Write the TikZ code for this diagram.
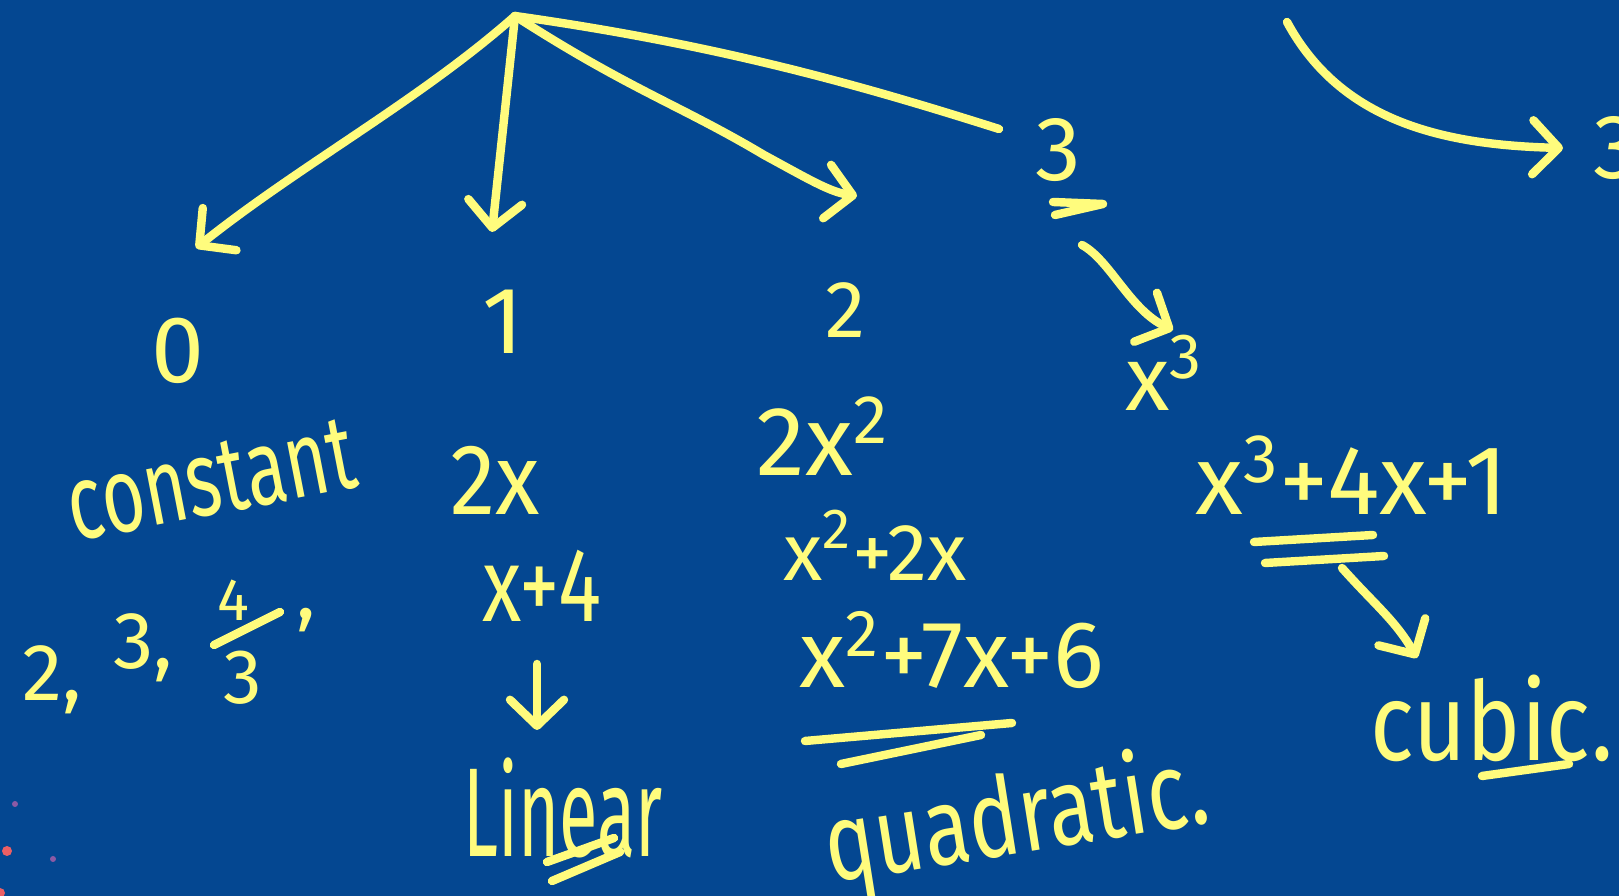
\documentclass[tikz,border=0pt]{standalone}
\usepackage{fontspec}
\setmainfont{Fira Sans}
\usepackage{graphicx}
\usetikzlibrary{arrows.meta,positioning}
\definecolor{board}{RGB}{4,71,145}
\definecolor{chalk}{RGB}{255,252,125}
\definecolor{dotred}{RGB}{235,95,100}
\definecolor{dotpurple}{RGB}{140,90,165}
\newcommand{\tallx}[2]{\scalebox{1}[#1]{#2}}
\tikzset{
  ink/.style={draw=chalk, line width=2.4pt, line cap=round, line join=round},
  arr/.style={ink, -{Straight Barb[length=2.6mm,width=5.4mm,round]}},
  hand/.style={text=chalk, inner sep=0pt, font=\fontsize{#1}{#1}\selectfont},
  hand/.default=26,
}

\begin{document}
\begin{tikzpicture}
  % Board
  \useasboundingbox (0,0) rectangle (16.19,-8.96);
  \clip (0,0) rectangle (16.19,-8.96);
  \fill[board] (0,0) rectangle (16.19,-8.96);

  % Degrees
  \node[hand=27] (zero) at (1.78,-3.51) {0};
  \node[hand=27] (one) at (5.03,-3.22) {1};
  \node[hand=23] (two) at (8.45,-3.10) {2};
  \node[hand=26] (three) at (10.58,-1.50) {3};
  \node[hand=26, anchor=west] (threeR) at (15.93,-1.48) {3};
  \node[hand=26] (xcube) at (11.64,-3.73) {x\textsuperscript{3}};

  % Arrows from the top
  \coordinate (apex) at (5.15,-0.16);
  \coordinate (to0) at (1.96,-2.48);
  \coordinate (to1) at (4.92,-2.32);
  \coordinate (to2) at (8.57,-1.96);
  \coordinate (to3) at (9.99,-1.29);
  \draw[arr] (apex) .. controls (4.2,-1.0) and (3.0,-1.65) .. (to0);
  \draw[arr] (apex) -- (to1);
  \draw[arr] (apex) .. controls (6.3,-0.9) and (6.8,-1.05) .. (7.64,-1.55)
    .. controls (8.1,-1.8) and (8.3,-1.92) .. (to2);
  \draw[ink] (apex) .. controls (7.2,-0.45) and (8.6,-0.85) .. (to3);

  % Arrow to the far 3
  \coordinate (trs) at (12.87,-0.22);
  \draw[arr] (trs) .. controls (13.4,-1.2) and (14.4,-1.45) .. ([xshift=-0.3cm]threeR.west);

  % 3 to x^3
  \draw[ink] (10.53,-2.02) -- (11.03,-2.04) -- (10.55,-2.15);
  \coordinate (c3a) at (10.82,-2.45);
  \coordinate (c3b) at (11.73,-3.30);
  \draw[arr] (c3a) .. controls (11.1,-2.6) and (11.3,-3.1) .. (c3b);

  % Constant column
  \node[hand=21, rotate=11] (constant) at (2.11,-4.80) {\tallx{1.45}{constant}};
  \node[hand=23] (cA) at (0.52,-6.80) {2,};
  \node[hand=23] (cB) at (1.43,-6.48) {3,};
  \node[hand=17] (cnum) at (2.33,-6.00) {4};
  \node[hand=22] (cden) at (2.43,-6.78) {3};
  \node[hand=23] (cC) at (3.06,-6.20) {,};
  \draw[ink] (2.14,-6.45) -- (2.80,-6.12);

  % Linear column
  \node[hand=26] (twox) at (4.95,-4.80) {\tallx{1.1}{2x}};
  \node[hand=23] (xpfour) at (5.42,-5.86) {\tallx{1.3}{x+4}};
  \coordinate (lina) at (5.37,-6.64);
  \coordinate (linb) at (5.37,-7.30);
  \draw[arr] (lina) -- (linb);
  \node[hand=20] (linear) at (5.63,-8.08) {\tallx{1.8}{Linear}};
  \draw[ink] (5.47,-8.62) -- (6.14,-8.38);
  \draw[ink] (5.52,-8.81) -- (6.20,-8.52);

  % Quadratic column
  \node[hand=28] (twoxsq) at (8.23,-4.36) {2x\textsuperscript{2}};
  \node[hand=23] (xsqptwox) at (8.75,-5.45) {x\textsuperscript{2}+2x};
  \node[hand=27] (xsqpseven) at (9.52,-6.50) {x\textsuperscript{2}+7x+6};
  \draw[ink] (8.05,-7.41) -- (10.12,-7.23);
  \draw[ink] (8.41,-7.64) -- (9.81,-7.35);
  \node[hand=24, rotate=9] (quadratic) at (10.17,-8.22) {\tallx{1.3}{quadratic.}};

  % Cubic column
  \node[hand=28] (cubicpoly) at (13.52,-4.75) {x\textsuperscript{3}+4x+1};
  \draw[ink] (12.54,-5.42) -- (13.73,-5.35);
  \draw[ink] (12.65,-5.63) -- (13.84,-5.56);
  \coordinate (cua) at (13.42,-5.68);
  \coordinate (cub) at (14.17,-6.58);
  \draw[arr] (cua) .. controls (13.75,-6.05) and (13.95,-6.2) .. (cub);
  \node[hand=26] (cubic) at (14.92,-7.18) {\tallx{1.2}{cubic.}};
  \draw[ink] (14.82,-7.76) -- (15.69,-7.64);

  % Stray dots
  \fill[dotpurple] (0.15,-8.04) circle (0.03);
  \fill[dotred] (0.07,-8.51) circle (0.05);
  \fill[dotpurple] (0.53,-8.59) circle (0.03);
  \fill[dotred] (0.0,-8.93) circle (0.05);
\end{tikzpicture}
\end{document}
